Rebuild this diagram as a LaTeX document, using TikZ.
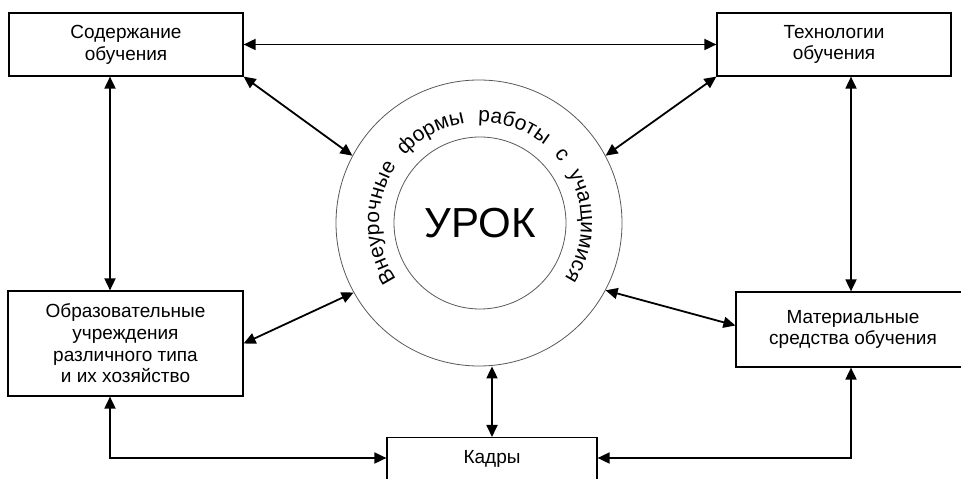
\documentclass[tikz,border=0pt]{standalone}
\usepackage{fontspec}
\setmainfont{Liberation Sans}
\usetikzlibrary{arrows.meta,decorations.text}
\begin{document}
\begin{tikzpicture}[x=1pt,y=1pt,
  box/.style={draw, line width=1.2pt, inner sep=0pt, align=center, font=\fontsize{19}{21.7}\selectfont},
  link/.style={line width=1.8pt, {Triangle[length=12pt,width=11pt]}-{Triangle[length=12pt,width=11pt]}},
  ringline/.style={draw=black!65, line width=0.8pt}]
\useasboundingbox (0,0) rectangle (961,479);
% boxes
\node[box, minimum width=234pt, minimum height=63pt] (sod) at (126,434.5) {Содержание\\обучения};
\node[box, minimum width=234pt, minimum height=63pt] (tech) at (834,434.5) {Технологии\\обучения};
\node[box, minimum width=235pt, minimum height=105pt] (obr) at (125.5,135.5) {Образовательные\\учреждения\\различного типа\\и их хозяйство};
\node[box, minimum width=234pt, minimum height=75pt] (mat) at (853,149.5) {Материальные\\средства обучения};
\node[box, anchor=north, minimum width=210pt, text height=13.6pt, text depth=40pt, inner ysep=12.5pt] (kad) at (492,42) {Кадры};
% circles
\node[circle, ringline, minimum size=286pt, inner sep=0pt] (ring) at (479,256) {};
\node[circle, ringline, minimum size=172pt, inner sep=0pt, font=\fontsize{42}{42}\selectfont] (core) at (480,256) {УРОК};
\coordinate (tc) at (480,256);
\path[decorate, decoration={text along path,
  text={|\fontsize{21}{21}\selectfont|Внеурочные формы работы с учащимися},
  text align={fit to path stretching spaces}}]
  ([shift={(214:101)}]tc) arc[start angle=214, end angle=-33, radius=101];
% helper coordinates
\coordinate (lx) at (110,0);
\coordinate (rx) at (851,0);
\coordinate (by) at (0,21);
% connectors
\draw[link] (sod.east) -- (tech.west);
\draw[link] (sod.south -| lx) -- (obr.north -| lx);
\draw[link] (tech.south -| rx) -- (mat.north -| rx);
\draw[link] (sod.south east) -- (ring.152);
\draw[link] (tech.south west) -- (ring.28);
\draw[link] (obr.east) -- (ring.209);
\draw[link] ([yshift=4pt]mat.west) -- (ring.-28);
\draw[link] (kad.north) -- (kad.north |- ring.south);
\draw[link] (obr.south -| lx) |- (kad.west |- by);
\draw[link] (mat.south -| rx) |- (kad.east |- by);
\end{tikzpicture}
\end{document}
